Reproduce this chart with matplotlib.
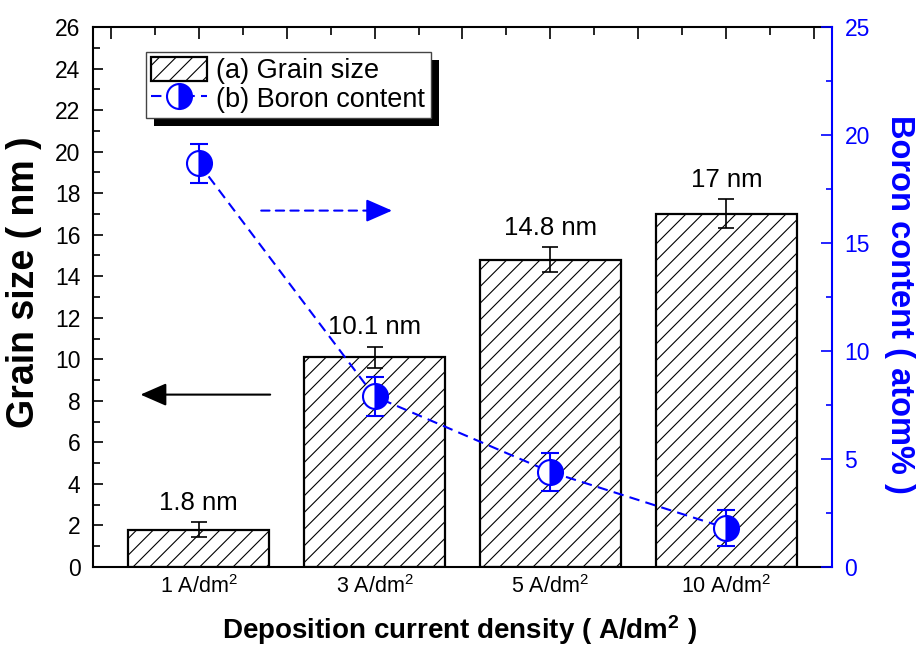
import numpy as np
import matplotlib
matplotlib.use("Agg")
import matplotlib.pyplot as plt
from matplotlib.patches import Rectangle
from matplotlib.ticker import MultipleLocator
from matplotlib.transforms import IdentityTransform

plt.rcParams['font.family'] = ['Liberation Sans', 'DejaVu Sans']
plt.rcParams['mathtext.fontset'] = 'custom'
plt.rcParams['mathtext.rm'] = 'Liberation Sans'
plt.rcParams['mathtext.bf'] = 'Liberation Sans:bold'
plt.rcParams['mathtext.default'] = 'rm'
plt.rcParams['hatch.linewidth'] = 0.8

# Data
densities = ["1 A/dm$^2$", "3 A/dm$^2$", "5 A/dm$^2$", "10 A/dm$^2$"]
grain_size = [1.8, 10.1, 14.8, 17.0]
grain_err = [0.35, 0.5, 0.6, 0.7]
grain_labels = ["1.8 nm", "10.1 nm", "14.8 nm", "17 nm"]
boron = [18.7, 7.9, 4.4, 1.8]
boron_err = [0.9, 0.9, 0.9, 0.85]

x = np.arange(len(densities))

fig = plt.figure(figsize=(9.18, 6.46), dpi=100)
ax = fig.add_axes([0.1013, 0.1223, 0.805, 0.8359])

# %%
# Grain size bars (left axis)
bars = ax.bar(x, grain_size, width=0.8, color='white', edgecolor='black',
              linewidth=1.6, hatch='//', label='(a) Grain size', zorder=2)
ax.errorbar(x, grain_size, yerr=grain_err, fmt='none', ecolor='black',
            elinewidth=1.2, capsize=6, capthick=1.2, zorder=3)
for xi, v, e, t in zip(x, grain_size, grain_err, grain_labels):
    ax.text(xi, v + e + 0.6, t, ha='center', va='baseline', fontsize=18.5)

ax.set_xlim(-0.6, 3.6)
ax.set_ylim(0, 26)

tick_pos = np.arange(-0.5, len(densities), 0.5)
ax.set_xticks(tick_pos)
ax.set_xticklabels([densities[int(p)] if p == int(p) else '' for p in tick_pos])
ax.xaxis.set_minor_locator(MultipleLocator(0.25))
ax.tick_params(axis='x', which='both', direction='in', bottom=False, top=True,
               labelbottom=True, pad=6, labelsize=15.5, width=1.2)
ax.tick_params(axis='x', which='major', length=8.5)
ax.tick_params(axis='x', which='minor', length=5.5)

ax.yaxis.set_major_locator(MultipleLocator(2))
ax.yaxis.set_minor_locator(MultipleLocator(1))
ax.tick_params(axis='y', which='both', direction='in', right=False, pad=9,
               labelsize=16.5, width=1.2)
ax.tick_params(axis='y', which='major', length=7.5)
ax.tick_params(axis='y', which='minor', length=5)

for s in ['left', 'top', 'bottom']:
    ax.spines[s].set_linewidth(1.5)
ax.spines['right'].set_visible(False)

ax.set_xlabel('Deposition current density ( A/dm$^\\mathbf{2}$ )', fontsize=20, fontweight='bold')
ax.xaxis.label.set_va('center')
ax.xaxis.set_label_coords(0.4966, -0.117)
ax.set_ylabel('Grain size ( nm )', fontsize=27, fontweight='bold')
ax.yaxis.label.set_va('center')
ax.yaxis.set_label_coords(-0.093, 0.528)

# black arrow pointing to the left axis
ax.annotate('', xy=(-0.33, 8.3), xytext=(0.407, 8.3),
            arrowprops=dict(arrowstyle='-|>,head_length=1.6,head_width=0.7',
                            color='black', lw=1.5, shrinkA=0, shrinkB=0))

# %%
# Boron content (right axis)
ax2 = ax.twinx()
ax2.set_ylim(0, 25)
ax2.errorbar(x, boron, yerr=boron_err, fmt='none', ecolor='blue',
             elinewidth=1.5, capsize=6.5, capthick=1.5, zorder=3)
line, = ax2.plot(x, boron, color='blue', linestyle=(0, (5, 3)), linewidth=1.5,
                 marker='o', markersize=18, fillstyle='right',
                 markerfacecolor='blue', markerfacecoloralt='white',
                 markeredgecolor='blue', markeredgewidth=1.5,
                 label='(b) Boron content', zorder=4)

ax2.yaxis.set_major_locator(MultipleLocator(5))
ax2.yaxis.set_minor_locator(MultipleLocator(2.5))
ax2.tick_params(axis='y', which='both', direction='in', colors='blue',
                labelsize=16.5, pad=9, width=1.2)
ax2.tick_params(axis='y', which='major', length=8)
ax2.tick_params(axis='y', which='minor', length=4.5)
for s in ['left', 'top', 'bottom']:
    ax2.spines[s].set_visible(False)
ax2.spines['right'].set_color('blue')
ax2.spines['right'].set_linewidth(1.5)

ax2.set_ylabel('Boron content ( atom% )', rotation=270, color='blue',
               fontsize=23.5, fontweight='bold')
ax2.yaxis.label.set_va('center')
ax2.yaxis.set_label_coords(1.092, 0.487)

# dashed blue arrow pointing to the right axis: dashed shaft + solid head
ax2.annotate('', xy=(0.98, 16.5), xytext=(0.356, 16.5),
             arrowprops=dict(arrowstyle='-', color='blue', lw=1.5,
                             linestyle=(0, (4, 3)), shrinkA=0, shrinkB=0))
ax2.annotate('', xy=(1.10, 16.5), xytext=(0.97, 16.5),
             arrowprops=dict(arrowstyle='-|>,head_length=1.6,head_width=0.7',
                             color='blue', lw=1.5, shrinkA=0, shrinkB=0))

# %%
# Legend with a hard black drop shadow
leg = ax2.legend(handles=[bars, line], loc='upper left',
                 bbox_to_anchor=(0.0717, 0.954), borderaxespad=0, fontsize=19.5,
                 frameon=True, fancybox=False, framealpha=1, edgecolor='#444444',
                 handlelength=2.05, handleheight=0.95, handletextpad=0.35,
                 labelspacing=0.05, borderpad=0.2)
leg.get_frame().set_linewidth(1.0)

fig.canvas.draw()
bb = leg.get_window_extent()
shadow = Rectangle((bb.x0 + 8, bb.y0 - 8), bb.width, bb.height,
                   transform=IdentityTransform(), facecolor='black',
                   edgecolor='none', zorder=4.9, clip_on=False)
ax2.add_artist(shadow)

fig.savefig('out.png', dpi=100)
